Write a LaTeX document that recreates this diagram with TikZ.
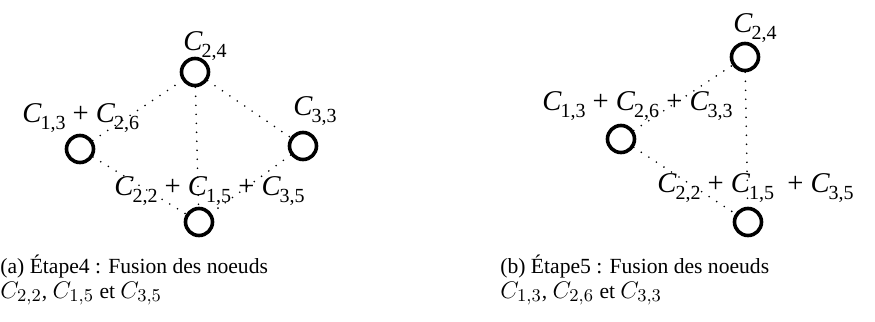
\documentclass[tikz,border=0pt]{standalone}
\usepackage{fontspec}
\setmainfont{Liberation Serif}
\usetikzlibrary{positioning}
% label C with a lowered index
\newcommand{\Cidx}[1]{\textit{C}\kern-0.6pt\raisebox{-3.6pt}{\fontsize{10}{10}\selectfont #1}}
% caption math a bit larger than the caption text
\newcommand{\capmath}[1]{{\fontsize{12.4}{14}\selectfont$#1$}}

\begin{document}
\begin{tikzpicture}[
  x=0.5pt,y=-0.5pt,
  vtx/.style={circle,draw,line width=1.8pt,minimum size=13.5pt,inner sep=0pt},
  lbl/.style={anchor=base west,inner sep=0pt,font=\fontsize{14.3}{16}\selectfont},
  captxt/.style={anchor=base west,inner sep=0pt,font=\fontsize{10.8}{12.7}\selectfont},
  edg/.style={line width=0.9pt,line cap=round,dash pattern=on 0pt off 4.5pt},
]
  \useasboundingbox (0,0) rectangle (875,322);

  % (a) Etape 4
  \node[vtx] (a24) at (195,72) {};
  \node[vtx] (a13) at (80,149) {};
  \node[vtx] (a33) at (303,146) {};
  \node[vtx] (a22) at (199,222) {};

  \node[lbl] (la24) at (183,50) {\Cidx{2,4}};
  \node[lbl] (la13) at (22,122) {\Cidx{1,3} + \Cidx{2,6}};
  \node[lbl] (la33) at (293,115) {\Cidx{3,3}};
  \node[lbl] (la22) at (114,195) {\Cidx{2,2} + \Cidx{1,5} + \Cidx{3,5}};

  \draw[edg] (a13) -- (a24);
  \draw[edg] (a24) -- (a33);
  \draw[edg] (a24) -- (a22);
  \draw[edg] (a13) -- (a22);
  \draw[edg] (a33) -- (a22);

  % (b) Etape 5
  \node[vtx] (b24) at (745,57) {};
  \node[vtx] (b13) at (621,139) {};
  \node[vtx] (b22) at (748,222) {};

  \node[lbl] (lb24) at (733,32) {\Cidx{2,4}};
  \node[lbl] (lb13) at (542,110) {\Cidx{1,3} + \Cidx{2,6} + \Cidx{3,3}};
  \node[lbl] (lb22) at (657,192) {\Cidx{2,2} + \Cidx{1,5}\hspace{3pt} + \Cidx{3,5}};

  \draw[edg] (b13) -- (b24);
  \draw[edg] (b24) -- (b22);
  \draw[edg] (b13) -- (b22);

  % captions
  \node[captxt] (capa1) at (0,273) {(a) Étape4 : Fusion des noeuds};
  \node[captxt] (capa2) at (0,298) {\capmath{C_{2,2}}, \capmath{C_{1,5}} et \capmath{C_{3,5}}};
  \node[captxt] (capb1) at (500,273) {(b) Étape5 : Fusion des noeuds};
  \node[captxt] (capb2) at (500,298) {\capmath{C_{1,3}}, \capmath{C_{2,6}} et \capmath{C_{3,3}}};
\end{tikzpicture}
\end{document}
